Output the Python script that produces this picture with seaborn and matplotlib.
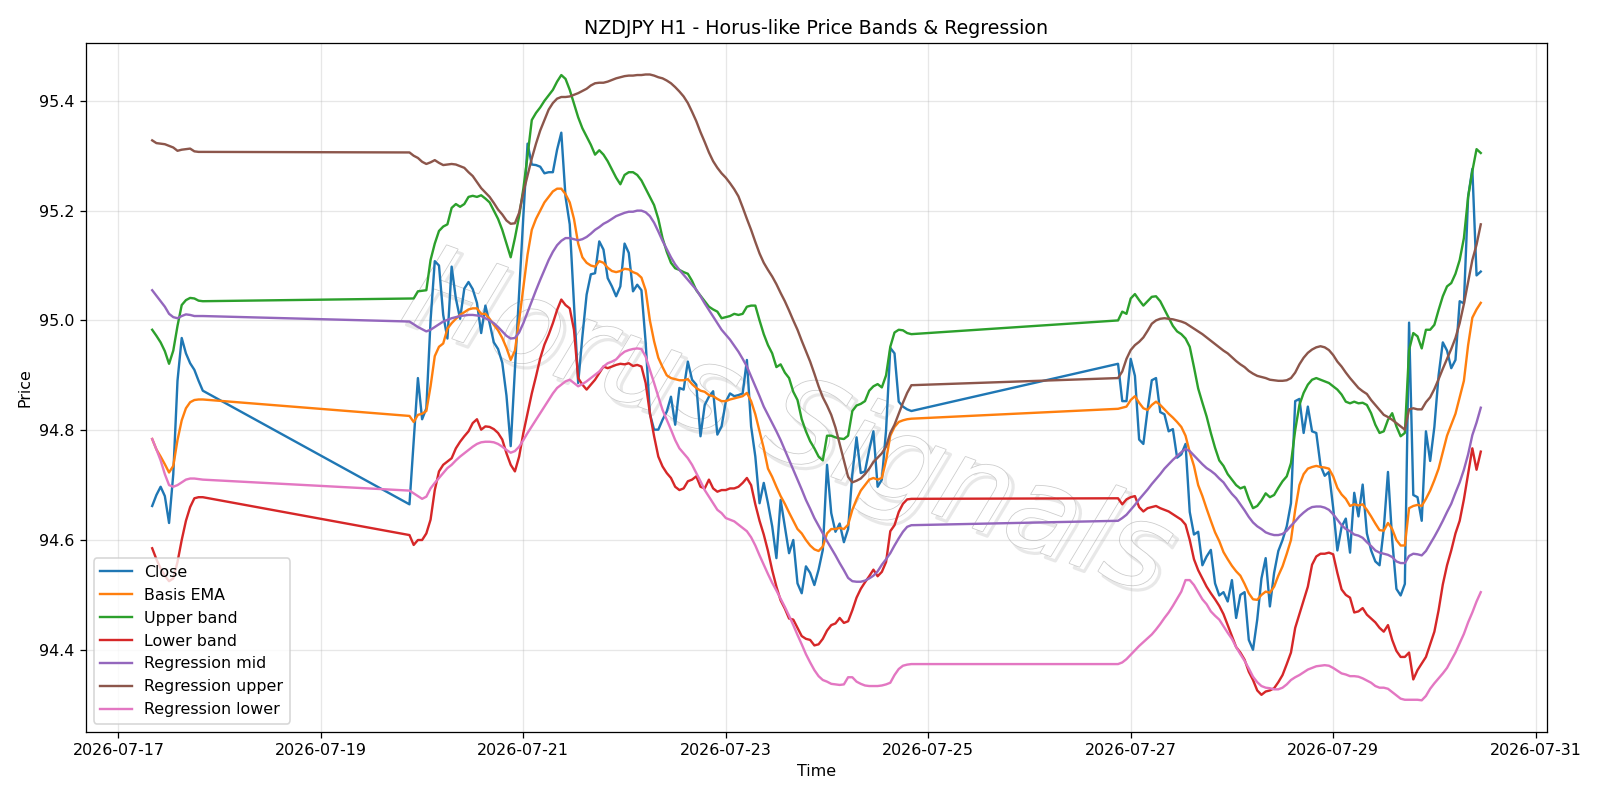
import pandas as pd
import matplotlib
matplotlib.use("Agg")
import matplotlib.pyplot as plt
import matplotlib.dates as mdates
import matplotlib.patheffects as pe
import seaborn as sns

# hourly bars, the market is closed over the weekends
times = (pd.date_range("2026-07-17 08:00", "2026-07-17 20:00", freq="h")
         .append(pd.date_range("2026-07-19 21:00", "2026-07-24 20:00", freq="h"))
         .append(pd.date_range("2026-07-26 21:00", "2026-07-30 11:00", freq="h")))

close = [
    94.662, 94.682, 94.697, 94.680, 94.631, 94.72, 94.89, 94.968, 94.94, 94.922, 94.91, 94.89, 94.872,
    # Jul 19 - Jul 24
    94.665, 94.78, 94.895, 94.82, 94.84, 95.00, 95.108, 95.10, 95.01, 94.967, 95.098, 95.04,
    95.003, 95.058, 95.07, 95.057, 95.032, 94.977, 95.027, 94.995, 94.96, 94.948, 94.923, 94.863,
    94.771, 94.91, 95.05, 95.19, 95.322, 95.284, 95.283, 95.28, 95.268, 95.27, 95.27, 95.311,
    95.342, 95.225, 95.175, 95.03, 94.886, 94.971, 95.047, 95.084, 95.086, 95.144, 95.129, 95.077,
    95.062, 95.044, 95.062, 95.140, 95.123, 95.053, 95.065, 95.055, 94.96, 94.83, 94.801, 94.801,
    94.819, 94.834, 94.861, 94.810, 94.877, 94.874, 94.925, 94.892, 94.883, 94.789, 94.846, 94.861,
    94.871, 94.792, 94.807, 94.852, 94.867, 94.862, 94.864, 94.867, 94.928, 94.807, 94.752, 94.667,
    94.704, 94.667, 94.625, 94.567, 94.673, 94.625, 94.576, 94.600, 94.521, 94.503, 94.552, 94.540,
    94.518, 94.546, 94.582, 94.737, 94.649, 94.615, 94.63, 94.596, 94.62, 94.72, 94.787, 94.722,
    94.725, 94.764, 94.798, 94.697, 94.71, 94.80, 94.950, 94.940, 94.852, 94.843, 94.838, 94.835,
    # Jul 26 - Jul 30
    94.921, 94.853, 94.853, 94.930, 94.899, 94.783, 94.775, 94.837, 94.891, 94.895, 94.833, 94.829,
    94.798, 94.802, 94.75, 94.756, 94.775, 94.651, 94.61, 94.615, 94.554, 94.57, 94.582, 94.521,
    94.499, 94.505, 94.488, 94.527, 94.458, 94.50, 94.505, 94.418, 94.400, 94.455, 94.53, 94.567,
    94.479, 94.54, 94.58, 94.60, 94.625, 94.667, 94.853, 94.857, 94.795, 94.843, 94.798, 94.795,
    94.736, 94.717, 94.724, 94.659, 94.581, 94.624, 94.639, 94.577, 94.686, 94.643, 94.701, 94.612,
    94.581, 94.561, 94.554, 94.62, 94.724, 94.60, 94.511, 94.499, 94.52, 94.996, 94.682, 94.678,
    94.635, 94.798, 94.744, 94.806, 94.90, 94.96, 94.945, 94.913, 94.928, 95.035, 95.031, 95.225,
    95.276, 95.082, 95.089,
]

basis_ema = [
    94.784, 94.765, 94.752, 94.738, 94.723, 94.735, 94.782, 94.818, 94.840, 94.851, 94.855, 94.856, 94.856,
    94.826, 94.815, 94.828, 94.830, 94.835, 94.88, 94.935, 94.952, 94.958, 94.985, 94.995, 95.003,
    95.010, 95.015, 95.020, 95.022, 95.022, 95.012, 95.012, 95.003, 94.992, 94.982, 94.968, 94.950,
    94.928, 94.945, 95.00, 95.06, 95.12, 95.165, 95.185, 95.20, 95.215, 95.225, 95.235, 95.24,
    95.24, 95.23, 95.215, 95.185, 95.14, 95.115, 95.105, 95.10, 95.098, 95.108, 95.105, 95.096,
    95.09, 95.088, 95.090, 95.094, 95.093, 95.088, 95.085, 95.078, 95.055, 95.00, 94.962, 94.932,
    94.915, 94.90, 94.895, 94.893, 94.891, 94.891, 94.893, 94.884, 94.877, 94.872, 94.870, 94.864,
    94.862, 94.857, 94.853, 94.853, 94.856, 94.858, 94.860, 94.862, 94.868, 94.853, 94.829, 94.798,
    94.767, 94.730, 94.715, 94.697, 94.680, 94.666, 94.650, 94.635, 94.62, 94.612, 94.60, 94.59,
    94.583, 94.580, 94.588, 94.612, 94.62, 94.62, 94.622, 94.62, 94.628, 94.655, 94.674, 94.69,
    94.70, 94.71, 94.713, 94.71, 94.713, 94.745, 94.79, 94.806, 94.815, 94.818, 94.82, 94.821,
    94.839, 94.841, 94.843, 94.855, 94.862, 94.85, 94.84, 94.837, 94.846, 94.852, 94.846, 94.838,
    94.83, 94.823, 94.815, 94.806, 94.79, 94.76, 94.735, 94.70, 94.68, 94.657, 94.635, 94.614,
    94.598, 94.578, 94.565, 94.553, 94.543, 94.535, 94.52, 94.503, 94.492, 94.491, 94.50, 94.506,
    94.504, 94.515, 94.535, 94.552, 94.575, 94.60, 94.655, 94.70, 94.72, 94.73, 94.733, 94.735,
    94.733, 94.732, 94.73, 94.716, 94.695, 94.683, 94.675, 94.662, 94.665, 94.663, 94.665, 94.655,
    94.643, 94.63, 94.618, 94.617, 94.631, 94.62, 94.60, 94.59, 94.59, 94.658, 94.662, 94.664,
    94.662, 94.675, 94.69, 94.709, 94.73, 94.76, 94.79, 94.81, 94.83, 94.86, 94.89, 94.955,
    95.005, 95.02, 95.032,
]

upper_band = [
    94.983, 94.972, 94.960, 94.944, 94.921, 94.945, 94.99, 95.028, 95.037, 95.041, 95.040, 95.036, 95.035,
    95.04, 95.04, 95.053, 95.054, 95.055, 95.11, 95.14, 95.163, 95.171, 95.175, 95.205, 95.212,
    95.207, 95.212, 95.225, 95.227, 95.225, 95.228, 95.222, 95.215, 95.20, 95.185, 95.165, 95.14,
    95.115, 95.15, 95.19, 95.24, 95.30, 95.365, 95.378, 95.388, 95.40, 95.41, 95.42, 95.435,
    95.447, 95.44, 95.42, 95.395, 95.37, 95.35, 95.335, 95.32, 95.302, 95.31, 95.302, 95.29,
    95.275, 95.26, 95.248, 95.265, 95.27, 95.27, 95.265, 95.255, 95.24, 95.225, 95.21, 95.185,
    95.15, 95.125, 95.105, 95.095, 95.092, 95.088, 95.085, 95.072, 95.055, 95.045, 95.035, 95.025,
    95.02, 95.016, 95.004, 95.006, 95.008, 95.012, 95.01, 95.012, 95.025, 95.027, 95.027, 95.0,
    94.975, 94.955, 94.94, 94.915, 94.92, 94.905, 94.895, 94.87, 94.855, 94.82, 94.798, 94.78,
    94.767, 94.752, 94.745, 94.79, 94.79, 94.787, 94.785, 94.784, 94.79, 94.835, 94.845, 94.848,
    94.853, 94.872, 94.88, 94.884, 94.878, 94.90, 94.952, 94.978, 94.983, 94.982, 94.977, 94.975,
    95.00, 95.016, 95.012, 95.04, 95.048, 95.037, 95.027, 95.035, 95.043, 95.044, 95.035, 95.02,
    95.005, 94.99, 94.98, 94.975, 94.967, 94.952, 94.915, 94.876, 94.85, 94.825, 94.795, 94.768,
    94.745, 94.735, 94.72, 94.71, 94.70, 94.694, 94.697, 94.675, 94.658, 94.662, 94.672, 94.685,
    94.678, 94.682, 94.695, 94.707, 94.716, 94.74, 94.80, 94.846, 94.868, 94.883, 94.892, 94.895,
    94.892, 94.889, 94.886, 94.88, 94.874, 94.865, 94.852, 94.849, 94.852, 94.849, 94.85, 94.846,
    94.831, 94.81, 94.795, 94.798, 94.819, 94.831, 94.807, 94.789, 94.795, 94.946, 94.977, 94.971,
    94.949, 94.983, 94.983, 94.992, 95.019, 95.044, 95.062, 95.068, 95.085, 95.11, 95.15, 95.225,
    95.272, 95.312, 95.305,
]

lower_band = [
    94.585, 94.565, 94.548, 94.535, 94.525, 94.530, 94.56, 94.60, 94.635, 94.66, 94.676, 94.678, 94.678,
    94.609, 94.591, 94.600, 94.600, 94.612, 94.637, 94.691, 94.725, 94.737, 94.743, 94.749, 94.767,
    94.779, 94.789, 94.798, 94.813, 94.820, 94.801, 94.807, 94.806, 94.802, 94.795, 94.783, 94.758,
    94.737, 94.725, 94.752, 94.795, 94.831, 94.867, 94.898, 94.931, 94.956, 94.974, 94.995, 95.019,
    95.038, 95.028, 95.022, 94.983, 94.895, 94.883, 94.874, 94.883, 94.892, 94.904, 94.916, 94.913,
    94.916, 94.919, 94.921, 94.92, 94.922, 94.917, 94.919, 94.916, 94.886, 94.831, 94.789, 94.752,
    94.734, 94.722, 94.713, 94.697, 94.691, 94.694, 94.707, 94.710, 94.716, 94.697, 94.694, 94.710,
    94.694, 94.688, 94.691, 94.691, 94.694, 94.694, 94.697, 94.704, 94.713, 94.70, 94.665, 94.635,
    94.61, 94.58, 94.545, 94.515, 94.49, 94.475, 94.457, 94.455, 94.44, 94.425, 94.42, 94.418,
    94.408, 94.41, 94.42, 94.435, 94.445, 94.448, 94.458, 94.449, 94.452, 94.472, 94.495, 94.511,
    94.523, 94.534, 94.546, 94.534, 94.542, 94.56, 94.616, 94.627, 94.651, 94.666, 94.674, 94.675,
    94.676, 94.665, 94.674, 94.678, 94.68, 94.66, 94.652, 94.658, 94.66, 94.662, 94.658, 94.655,
    94.652, 94.647, 94.642, 94.637, 94.628, 94.60, 94.565, 94.545, 94.53, 94.515, 94.503, 94.492,
    94.48, 94.465, 94.445, 94.425, 94.405, 94.395, 94.382, 94.36, 94.345, 94.326, 94.318, 94.324,
    94.326, 94.33, 94.341, 94.354, 94.374, 94.395, 94.44, 94.465, 94.49, 94.515, 94.555, 94.57,
    94.575, 94.575, 94.577, 94.574, 94.54, 94.51, 94.50, 94.495, 94.468, 94.47, 94.476, 94.464,
    94.457, 94.45, 94.44, 94.433, 94.445, 94.418, 94.398, 94.387, 94.387, 94.395, 94.346, 94.363,
    94.375, 94.387, 94.41, 94.433, 94.472, 94.519, 94.554, 94.581, 94.612, 94.635, 94.674, 94.721,
    94.767, 94.728, 94.761,
]

reg_mid = [
    95.055, 95.045, 95.035, 95.025, 95.012, 95.006, 95.004, 95.008, 95.011, 95.010, 95.008, 95.008, 95.008,
    94.998, 94.993, 94.988, 94.984, 94.98, 94.983, 94.988, 94.993, 94.998, 95.001, 95.004, 95.006,
    95.008, 95.009, 95.010, 95.010, 95.009, 95.008, 95.004, 95.0, 94.995, 94.988, 94.980, 94.972,
    94.967, 94.968, 94.978, 94.995, 95.015, 95.035, 95.055, 95.074, 95.092, 95.11, 95.125, 95.137,
    95.145, 95.150, 95.15, 95.148, 95.146, 95.148, 95.152, 95.158, 95.165, 95.17, 95.176, 95.180,
    95.185, 95.19, 95.193, 95.196, 95.198, 95.198, 95.2, 95.2, 95.197, 95.19, 95.178, 95.162,
    95.145, 95.13, 95.115, 95.102, 95.092, 95.083, 95.074, 95.065, 95.056, 95.044, 95.031, 95.019,
    95.007, 94.995, 94.983, 94.974, 94.965, 94.954, 94.943, 94.930, 94.916, 94.898, 94.880, 94.862,
    94.843, 94.828, 94.813, 94.798, 94.782, 94.764, 94.746, 94.728, 94.710, 94.692, 94.673, 94.657,
    94.640, 94.626, 94.612, 94.598, 94.585, 94.572, 94.558, 94.545, 94.531, 94.525, 94.524, 94.524,
    94.526, 94.530, 94.535, 94.543, 94.555, 94.565, 94.576, 94.59, 94.603, 94.615, 94.624, 94.627,
    94.635, 94.64, 94.646, 94.655, 94.664, 94.674, 94.683, 94.692, 94.702, 94.711, 94.72, 94.73,
    94.738, 94.746, 94.753, 94.76, 94.766, 94.762, 94.754, 94.746, 94.738, 94.731, 94.726, 94.72,
    94.712, 94.705, 94.694, 94.684, 94.676, 94.665, 94.654, 94.642, 94.632, 94.625, 94.62, 94.614,
    94.611, 94.609, 94.609, 94.611, 94.617, 94.626, 94.634, 94.643, 94.65, 94.656, 94.66, 94.661,
    94.661, 94.659, 94.655, 94.647, 94.637, 94.627, 94.62, 94.616, 94.61, 94.608, 94.604, 94.596,
    94.589, 94.581, 94.577, 94.575, 94.573, 94.569, 94.561, 94.558, 94.558, 94.571, 94.575, 94.574,
    94.572, 94.58, 94.593, 94.606, 94.62, 94.635, 94.651, 94.666, 94.686, 94.705, 94.728, 94.756,
    94.791, 94.814, 94.841,
]

reg_upper = [
    95.328, 95.323, 95.322, 95.321, 95.318, 95.315, 95.309, 95.311, 95.312, 95.313, 95.308, 95.307, 95.307,
    95.306, 95.30, 95.296, 95.289, 95.285, 95.288, 95.292, 95.287, 95.283, 95.284, 95.285, 95.284,
    95.281, 95.278, 95.270, 95.263, 95.252, 95.241, 95.233, 95.225, 95.214, 95.202, 95.193, 95.182,
    95.176, 95.177, 95.196, 95.233, 95.264, 95.295, 95.322, 95.346, 95.365, 95.384, 95.396, 95.404,
    95.407, 95.407, 95.408, 95.411, 95.414, 95.418, 95.422, 95.428, 95.432, 95.433, 95.433, 95.435,
    95.438, 95.441, 95.443, 95.445, 95.446, 95.446, 95.447, 95.447, 95.448, 95.448, 95.446, 95.443,
    95.441, 95.437, 95.432, 95.425, 95.417, 95.408, 95.396, 95.38, 95.363, 95.343, 95.325, 95.306,
    95.29, 95.278, 95.268, 95.26, 95.25, 95.239, 95.226, 95.206, 95.185, 95.165, 95.143, 95.122,
    95.105, 95.092, 95.08, 95.066, 95.05, 95.035, 95.018, 95.0, 94.983, 94.963, 94.944, 94.925,
    94.903, 94.88, 94.86, 94.845, 94.828, 94.805, 94.775, 94.745, 94.715, 94.705, 94.708, 94.712,
    94.72, 94.73, 94.742, 94.75, 94.758, 94.77, 94.795, 94.81, 94.83, 94.85, 94.868, 94.882,
    94.895, 94.907, 94.93, 94.946, 94.955, 94.961, 94.969, 94.981, 94.994, 95.0, 95.003, 95.004,
    95.003, 95.002, 95.0, 94.998, 94.995, 94.99, 94.985, 94.98, 94.975, 94.969, 94.963, 94.957,
    94.951, 94.945, 94.94, 94.933, 94.926, 94.92, 94.915, 94.908, 94.903, 94.899, 94.897, 94.895,
    94.892, 94.891, 94.89, 94.89, 94.891, 94.895, 94.905, 94.92, 94.932, 94.941, 94.947, 94.951,
    94.953, 94.951, 94.946, 94.937, 94.925, 94.916, 94.905, 94.895, 94.886, 94.877, 94.871, 94.866,
    94.855, 94.846, 94.837, 94.828, 94.824, 94.819, 94.813, 94.807, 94.801, 94.838, 94.84, 94.838,
    94.838, 94.851, 94.86, 94.875, 94.893, 94.912, 94.93, 94.948, 94.968, 94.995, 95.03, 95.07,
    95.11, 95.138, 95.175,
]

reg_lower = [
    94.784, 94.765, 94.745, 94.720, 94.700, 94.697, 94.700, 94.705, 94.710, 94.712, 94.712, 94.711, 94.710,
    94.690, 94.685, 94.680, 94.675, 94.679, 94.694, 94.704, 94.713, 94.722, 94.731, 94.737, 94.745,
    94.752, 94.758, 94.764, 94.770, 94.775, 94.778, 94.779, 94.779, 94.778, 94.775, 94.770, 94.764,
    94.759, 94.762, 94.770, 94.782, 94.795, 94.807, 94.819, 94.831, 94.843, 94.855, 94.867, 94.877,
    94.883, 94.889, 94.892, 94.886, 94.880, 94.884, 94.889, 94.895, 94.901, 94.907, 94.916, 94.922,
    94.925, 94.929, 94.937, 94.943, 94.946, 94.948, 94.949, 94.948, 94.934, 94.910, 94.886, 94.861,
    94.837, 94.819, 94.801, 94.782, 94.767, 94.758, 94.749, 94.737, 94.722, 94.707, 94.691, 94.679,
    94.667, 94.655, 94.649, 94.640, 94.637, 94.634, 94.628, 94.622, 94.616, 94.605, 94.59, 94.572,
    94.555, 94.538, 94.522, 94.508, 94.493, 94.478, 94.462, 94.445, 94.427, 94.41, 94.392, 94.377,
    94.363, 94.352, 94.345, 94.342, 94.338, 94.337, 94.336, 94.337, 94.35, 94.35, 94.342, 94.338,
    94.335, 94.334, 94.334, 94.334, 94.335, 94.337, 94.34, 94.354, 94.365, 94.371, 94.373, 94.374,
    94.374, 94.377, 94.383, 94.391, 94.399, 94.407, 94.414, 94.421, 94.428, 94.437, 94.447, 94.458,
    94.468, 94.48, 94.493, 94.506, 94.527, 94.527, 94.518, 94.505, 94.492, 94.483, 94.47, 94.462,
    94.455, 94.443, 94.431, 94.42, 94.405, 94.392, 94.38, 94.366, 94.351, 94.341, 94.334, 94.331,
    94.33, 94.328, 94.328, 94.331, 94.337, 94.345, 94.35, 94.354, 94.359, 94.364, 94.367, 94.37,
    94.371, 94.372, 94.371, 94.367, 94.362, 94.357, 94.355, 94.352, 94.352, 94.351, 94.348, 94.344,
    94.34, 94.334, 94.331, 94.331, 94.329, 94.323, 94.317, 94.311, 94.309, 94.309, 94.309, 94.309,
    94.308, 94.316, 94.329, 94.339, 94.348, 94.357, 94.367, 94.381, 94.395, 94.412, 94.429, 94.45,
    94.468, 94.488, 94.505,
]

series = [
    ("Close", close),
    ("Basis EMA", basis_ema),
    ("Upper band", upper_band),
    ("Lower band", lower_band),
    ("Regression mid", reg_mid),
    ("Regression upper", reg_upper),
    ("Regression lower", reg_lower),
]

DPI = 1600 / 14 + 1e-6
fig, ax = plt.subplots(figsize=(14, 7), dpi=DPI)
fig.subplots_adjust(left=0.0536, right=0.967, top=0.946, bottom=0.0855)

for i, (name, values) in enumerate(series):
    assert len(values) == len(times), (name, len(values))
    sns.lineplot(x=times, y=values, ax=ax, label=name, color=f"C{i}",
                 linewidth=1.5, estimator=None)

# watermark: hollow grey letters with a soft offset shadow
ax.text(0.48, 0.445, "Horus Signals", transform=ax.transAxes,
        fontsize=74, style="italic", rotation=-20, rotation_mode="anchor",
        ha="center", va="center", color="white", zorder=1.5,
        path_effects=[pe.Stroke(linewidth=2.0, foreground="0.6", alpha=0.22, offset=(3, -3)),
                      pe.Stroke(linewidth=1.0, foreground="0.8"),
                      pe.Normal()])

ax.xaxis.set_major_locator(mdates.DayLocator(bymonthday=range(1, 32, 2)))
ax.xaxis.set_major_formatter(mdates.DateFormatter("%Y-%m-%d"))

ax.set_title("NZDJPY H1 - Horus-like Price Bands & Regression")
ax.set_xlabel("Time")
ax.set_ylabel("Price")
ax.grid(True, alpha=0.3)
ax.legend(loc="lower left")

plt.savefig("out.png", dpi=DPI)
